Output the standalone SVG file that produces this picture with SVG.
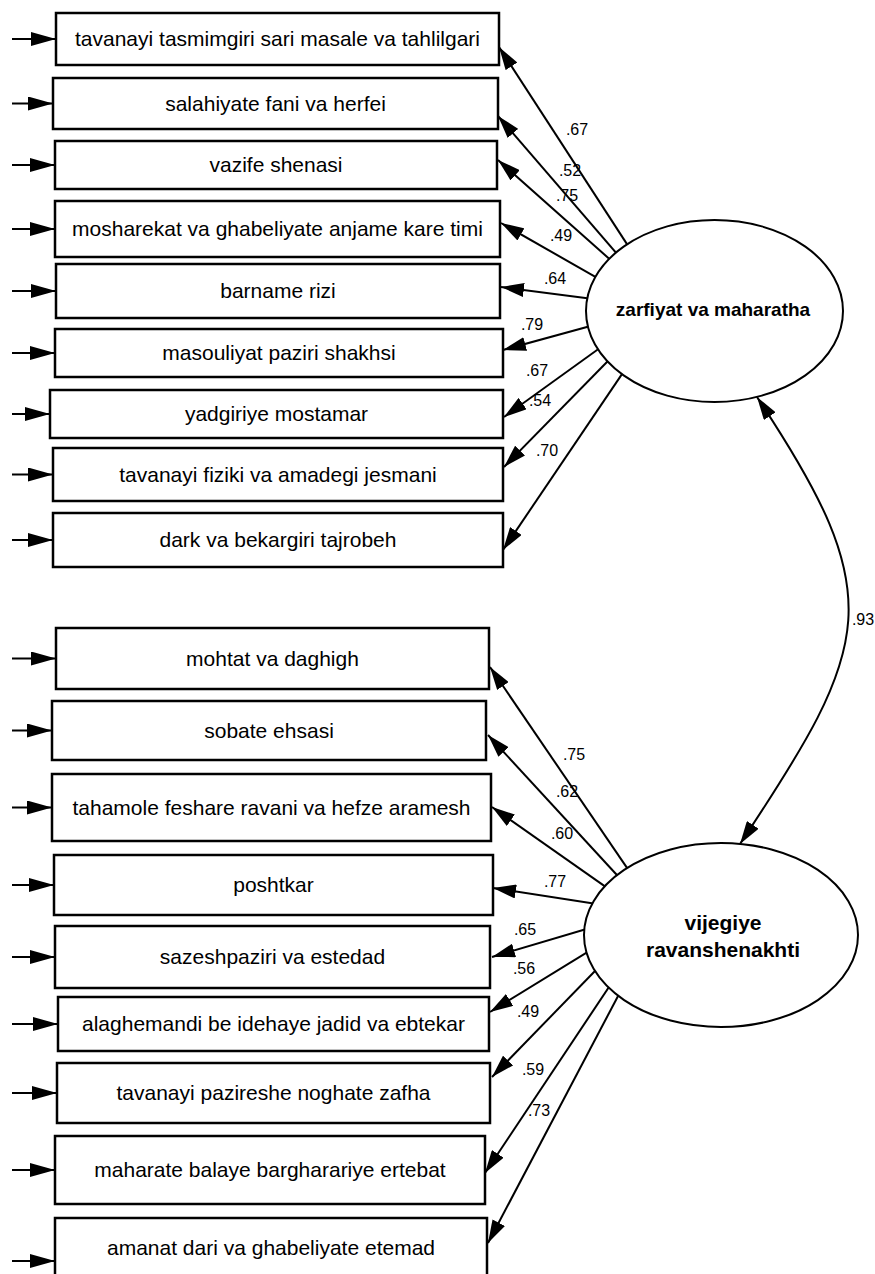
<svg xmlns="http://www.w3.org/2000/svg" width="875" height="1274" viewBox="0 0 875 1274">
<style>
.box{fill:#fff;stroke:#000;stroke-width:2.5}
.lat{fill:#fff;stroke:#000;stroke-width:2}
.bt{font-family:"Liberation Sans",Arial,sans-serif;font-size:21px;fill:#000;text-anchor:middle}
.lt{font-family:"Liberation Sans",Arial,sans-serif;font-weight:bold;fill:#000;text-anchor:middle}
.lb{font-family:"Liberation Sans",Arial,sans-serif;font-size:16px;fill:#000;text-anchor:middle}
.ln{stroke:#000;stroke-width:2;fill:none;marker-end:url(#ah)}
.er{stroke:#000;stroke-width:2;fill:none;marker-end:url(#eh)}
</style>
<defs>
<marker id="ah" markerUnits="userSpaceOnUse" markerWidth="23" markerHeight="14" refX="23" refY="7" orient="auto-start-reverse" viewBox="0 0 23 14"><path d="M0,0 L23,7 L0,14 z" fill="#000"/></marker>
<marker id="eh" markerUnits="userSpaceOnUse" markerWidth="25" markerHeight="14" refX="25" refY="7" orient="auto" viewBox="0 0 25 14"><path d="M0,0 L25,7 L0,14 z" fill="#000"/></marker>
</defs>
<rect width="875" height="1274" fill="#fff"/>
<g id="connectors">
<line class="er" x1="12" y1="39" x2="56" y2="39"/>
<line class="er" x1="12" y1="103.5" x2="53" y2="103.5"/>
<line class="er" x1="12" y1="165" x2="55" y2="165"/>
<line class="er" x1="12" y1="229" x2="55" y2="229"/>
<line class="er" x1="12" y1="291" x2="56" y2="291"/>
<line class="er" x1="12" y1="353" x2="55" y2="353"/>
<line class="er" x1="12" y1="414" x2="50" y2="414"/>
<line class="er" x1="12" y1="474.5" x2="53" y2="474.5"/>
<line class="er" x1="12" y1="540" x2="53" y2="540"/>
<line class="er" x1="12" y1="658.5" x2="56" y2="658.5"/>
<line class="er" x1="12" y1="730.5" x2="52" y2="730.5"/>
<line class="er" x1="12" y1="807.5" x2="52" y2="807.5"/>
<line class="er" x1="12" y1="885" x2="54" y2="885"/>
<line class="er" x1="12" y1="957" x2="55" y2="957"/>
<line class="er" x1="12" y1="1024" x2="58" y2="1024"/>
<line class="er" x1="12" y1="1093" x2="57" y2="1093"/>
<line class="er" x1="12" y1="1170" x2="55" y2="1170"/>
<line class="er" x1="12" y1="1261" x2="55" y2="1261"/>
<line class="ln" x1="631.2" y1="250.6" x2="499" y2="47"/>
<line class="ln" x1="621.8" y1="259.4" x2="498" y2="116"/>
<line class="ln" x1="616.2" y1="265" x2="498" y2="160"/>
<line class="ln" x1="605" y1="282.4" x2="501" y2="223"/>
<line class="ln" x1="600.9" y1="299.9" x2="501" y2="287"/>
<line class="ln" x1="601.5" y1="323" x2="503" y2="350"/>
<line class="ln" x1="609.2" y1="341.2" x2="504" y2="417"/>
<line class="ln" x1="617.5" y1="351.3" x2="504" y2="467"/>
<line class="ln" x1="628.4" y1="364.6" x2="503" y2="550"/>
<line class="ln" x1="633.5" y1="877.4" x2="490" y2="667"/>
<line class="ln" x1="625.2" y1="884" x2="488" y2="735"/>
<line class="ln" x1="615.3" y1="893.6" x2="492" y2="807"/>
<line class="ln" x1="604.8" y1="905.3" x2="493" y2="888"/>
<line class="ln" x1="597.4" y1="925.7" x2="492" y2="957"/>
<line class="ln" x1="598.8" y1="945.1" x2="490" y2="1012"/>
<line class="ln" x1="603.5" y1="962.2" x2="492" y2="1077"/>
<line class="ln" x1="615.3" y1="977.5" x2="485" y2="1173"/>
<line class="ln" x1="624" y1="984.7" x2="488" y2="1243"/>
<path d="M757,397 C890,597 873,644 740,844" stroke="#000" stroke-width="2" fill="none" marker-start="url(#ah)" marker-end="url(#ah)"/>
<text class="lb" x="577" y="135">.67</text>
<text class="lb" x="570" y="176">.52</text>
<text class="lb" x="567" y="201">.75</text>
<text class="lb" x="561" y="241">.49</text>
<text class="lb" x="555" y="284">.64</text>
<text class="lb" x="532" y="330">.79</text>
<text class="lb" x="537" y="376">.67</text>
<text class="lb" x="540" y="406">.54</text>
<text class="lb" x="547" y="456">.70</text>
<text class="lb" x="574" y="760">.75</text>
<text class="lb" x="567" y="797">.62</text>
<text class="lb" x="562" y="839">.60</text>
<text class="lb" x="555" y="887">.77</text>
<text class="lb" x="525" y="935">.65</text>
<text class="lb" x="524" y="974">.56</text>
<text class="lb" x="528" y="1017">.49</text>
<text class="lb" x="533" y="1075">.59</text>
<text class="lb" x="539" y="1116">.73</text>
<text class="lb" x="863" y="625">.93</text>
</g>
<g id="n1"><rect class="box" x="56" y="13" width="443" height="52"/><text class="bt" x="277.5" y="46">tavanayi tasmimgiri sari masale va tahlilgari</text></g>
<g id="n2"><rect class="box" x="53" y="78" width="445" height="51"/><text class="bt" x="275.5" y="110.5">salahiyate fani va herfei</text></g>
<g id="n3"><rect class="box" x="55" y="141" width="442" height="48"/><text class="bt" x="276" y="172">vazife shenasi</text></g>
<g id="n4"><rect class="box" x="55" y="201" width="445" height="56"/><text class="bt" x="277.5" y="236">mosharekat va ghabeliyate anjame kare timi</text></g>
<g id="n5"><rect class="box" x="56" y="264" width="444" height="54"/><text class="bt" x="278" y="298">barname rizi</text></g>
<g id="n6"><rect class="box" x="55" y="329" width="448" height="48"/><text class="bt" x="279" y="360">masouliyat paziri shakhsi</text></g>
<g id="n7"><rect class="box" x="50" y="390" width="453" height="48"/><text class="bt" x="276.5" y="421">yadgiriye mostamar</text></g>
<g id="n8"><rect class="box" x="53" y="448" width="450" height="53"/><text class="bt" x="278" y="481.5">tavanayi fiziki va amadegi jesmani</text></g>
<g id="n9"><rect class="box" x="53" y="513" width="450" height="54"/><text class="bt" x="278" y="547">dark va bekargiri tajrobeh</text></g>
<g id="n10"><rect class="box" x="56" y="628" width="433" height="61"/><text class="bt" x="272.5" y="665.5">mohtat va daghigh</text></g>
<g id="n11"><rect class="box" x="52" y="701" width="434" height="59"/><text class="bt" x="269" y="737.5">sobate ehsasi</text></g>
<g id="n12"><rect class="box" x="52" y="774" width="439" height="67"/><text class="bt" x="271.5" y="814.5">tahamole feshare ravani va hefze aramesh</text></g>
<g id="n13"><rect class="box" x="54" y="855" width="439" height="60"/><text class="bt" x="273.5" y="892">poshtkar</text></g>
<g id="n14"><rect class="box" x="55" y="926" width="435" height="62"/><text class="bt" x="272.5" y="964">sazeshpaziri va estedad</text></g>
<g id="n15"><rect class="box" x="58" y="997" width="431" height="54"/><text class="bt" x="273.5" y="1031">alaghemandi be idehaye jadid va ebtekar</text></g>
<g id="n16"><rect class="box" x="57" y="1063" width="433" height="60"/><text class="bt" x="273.5" y="1100">tavanayi pazireshe noghate zafha</text></g>
<g id="n17"><rect class="box" x="55" y="1136" width="430" height="68"/><text class="bt" x="270" y="1177">maharate balaye bargharariye ertebat</text></g>
<g id="n18"><rect class="box" x="55" y="1218" width="432" height="64"/><text class="bt" x="271" y="1255">amanat dari va ghabeliyate etemad</text></g>
<g id="f1"><ellipse class="lat" cx="714.5" cy="311" rx="128.5" ry="91"/><text class="lt" x="713" y="316" font-size="19">zarfiyat va maharatha</text></g>
<g id="f2"><ellipse class="lat" cx="721" cy="935" rx="137" ry="92"/><text class="lt" x="723" y="930" font-size="21">vijegiye</text><text class="lt" x="723" y="957" font-size="21">ravanshenakhti</text></g>
</svg>
